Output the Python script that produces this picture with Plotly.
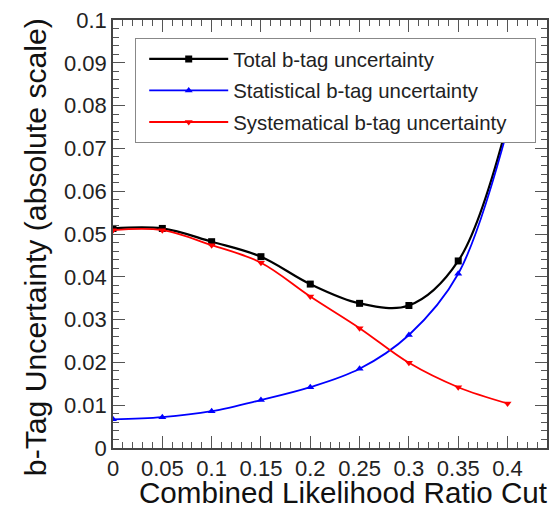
import plotly.graph_objects as go

cuts = [0.0, 0.05, 0.10, 0.15, 0.20, 0.25, 0.30, 0.35, 0.40]
total = [0.0513, 0.0513, 0.0482, 0.0447, 0.0383, 0.0338, 0.0333, 0.0437, 0.0760]
stat = [0.0067, 0.0072, 0.0086, 0.0112, 0.0142, 0.0185, 0.0264, 0.0407, 0.0745]
syst = [0.0509, 0.0509, 0.0474, 0.0433, 0.0354, 0.0280, 0.0199, 0.0142, 0.0104]

names = ["Total b-tag uncertainty", "Statistical b-tag uncertainty", "Systematical b-tag uncertainty"]
xticks = [0, 0.05, 0.1, 0.15, 0.2, 0.25, 0.3, 0.35, 0.4]
yticks = [0, 0.01, 0.02, 0.03, 0.04, 0.05, 0.06, 0.07, 0.08, 0.09, 0.1]
x_title = "Combined Likelihood Ratio Cut"
y_title = "b-Tag Uncertainty (absolute scale)"

FONT = "Liberation Sans, Arial, Helvetica, sans-serif"
PAD = "\u00a0" * 4  # widens the legend box to match the reference frame

fig = go.Figure()
fig.add_trace(go.Scatter(x=cuts, y=total, name=names[0] + PAD, mode="lines+markers", legendgroup="a",
                         line=dict(color="black", width=2.2, shape="spline", smoothing=1.0),
                         marker=dict(symbol="square", size=7, color="black")))
fig.add_trace(go.Scatter(x=cuts, y=stat, name=names[1] + PAD, mode="lines+markers", legendgroup="b",
                         line=dict(color="#0000ff", width=1.8, shape="spline", smoothing=1.0),
                         marker=dict(symbol="triangle-up", size=7, color="#0000ff")))
fig.add_trace(go.Scatter(x=cuts, y=syst, name=names[2] + PAD, mode="lines+markers", legendgroup="c",
                         line=dict(color="#ff0000", width=1.8, shape="spline", smoothing=1.0),
                         marker=dict(symbol="triangle-down", size=7, color="#ff0000")))

axis_common = dict(
    showline=True, linecolor="#444", linewidth=1.5, mirror="allticks",
    ticks="inside", ticklen=12, tickwidth=1.2, tickcolor="#555",
    showgrid=False, zeroline=False,
    tickfont=dict(family=FONT, size=22, color="#222"),
)

fig.update_xaxes(range=[0, 0.44], tickvals=xticks, ticktext=[("%g" % v) for v in xticks],
                 minor=dict(dtick=0.01, tick0=0, ticks="inside", ticklen=6, tickcolor="#555", tickwidth=1),
                 ticklabelstandoff=0, **axis_common)
fig.update_yaxes(range=[0, 0.1], tickvals=yticks, ticktext=[("%g" % v) for v in yticks],
                 minor=dict(dtick=0.002, tick0=0, ticks="inside", ticklen=6, tickcolor="#555", tickwidth=1),
                 **axis_common)

fig.add_annotation(text=x_title, xref="paper", yref="paper", x=0.53, y=-0.104,
                   xanchor="center", yanchor="middle", showarrow=False,
                   font=dict(family=FONT, size=29.6, color="#111"))
fig.add_annotation(text=y_title, xref="paper", yref="paper", x=-0.18, y=0.469,
                   xanchor="center", yanchor="middle", showarrow=False, textangle=-90,
                   font=dict(family=FONT, size=30.2, color="#111"))

fig.update_layout(
    width=554, height=508,
    margin=dict(l=113, r=7, t=20, b=60, autoexpand=False),
    paper_bgcolor="white", plot_bgcolor="white",
    showlegend=True,
    legend=dict(x=0.0507, y=0.958, xanchor="left", yanchor="top",
                bgcolor="white", bordercolor="#888", borderwidth=1.2,
                font=dict(family=FONT, size=20.4, color="#222"),
                itemwidth=79, indentation=8,
                traceorder="grouped", tracegroupgap=2),
)

fig.write_html("out.html", config={"displayModeBar": False},
               post_script="document.body.style.margin='0px';")
